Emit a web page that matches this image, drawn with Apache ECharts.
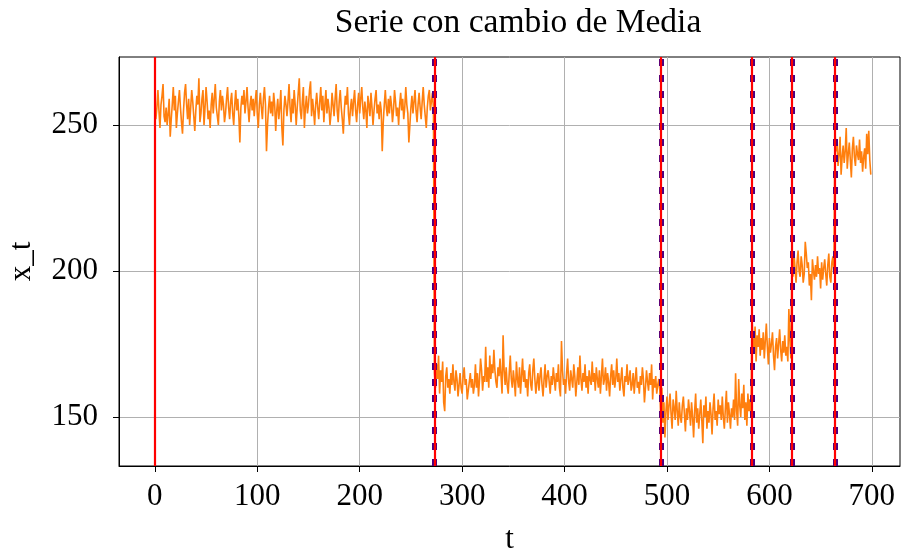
<!DOCTYPE html>
<html>
<head>
<meta charset="utf-8">
<script src="https://cdn.jsdelivr.net/npm/echarts@6/dist/echarts.min.js"></script>
<style>html,body{margin:0;padding:0;background:#fff;}#c{width:901px;height:555px;}</style>
</head>
<body>
<div id="c"></div>
<script>
// Segment 1: t = 0..272
const seg1 = [
258,252,256,262,255,249,257,260,264,253,
251,256,250,254,259,246,252,257,263,255,
260,249,254,258,262,256,251,247,255,261,
264,257,252,259,250,256,262,258,253,248,
255,260,257,266,251,254,259,262,250,256,
263,258,252,255,249,257,261,254,259,264,
256,253,250,258,262,255,260,257,251,254,
259,263,256,252,258,261,254,250,257,262,
255,259,253,244,256,260,257,262,254,258,
263,256,251,257,260,255,259,253,258,262,
254,249,257,261,256,252,259,263,257,241,
250,256,260,254,258,253,261,257,248,255,
259,252,256,262,249,243,255,260,257,253,
258,264,256,251,259,254,262,257,250,256,
261,266,255,252,258,263,249,256,260,254,
257,262,265,253,259,255,250,257,261,256,
252,258,263,255,260,251,257,262,254,259,
256,250,254,261,257,253,259,264,255,251,
258,262,256,252,247,255,260,257,263,254,
250,256,259,253,258,262,255,251,257,261,
254,259,263,256,252,258,255,249,260,257,
253,261,256,250,255,259,262,254,257,252,
258,255,241,251,257,262,256,253,259,254,
260,257,251,255,262,258,253,256,250,257,
261,255,259,252,256,263,257,254,244,250,
256,260,254,258,262,255,251,257,261,256,
252,258,263,257,253,249,256,260,262,255,
258,261,256
];
// Segment 2: t = 273..493
const seg2 = [
165,160,168,163,171,158,166,162,169,155,
152,164,167,160,163,158,165,161,168,162,
159,166,163,157,161,165,160,158,164,167,
161,163,156,159,162,165,160,163,158,161,
168,160,165,157,163,170,166,159,164,162,
174,162,167,160,171,163,168,165,173,166,
162,160,167,164,170,164,158,178,166,161,
167,161,158,165,171,163,160,166,162,157,
169,163,160,167,158,164,170,162,166,160,
163,157,165,168,161,159,166,170,163,158,
162,165,159,164,167,161,157,163,168,160,
164,166,162,158,164,161,167,163,159,165,
162,168,160,157,176,166,161,163,158,165,
170,162,159,166,163,160,168,164,157,162,
167,161,171,163,159,165,162,168,160,164,
158,166,163,161,169,162,165,159,167,163,
160,166,158,164,170,161,163,167,159,165,
162,157,164,168,161,166,160,163,170,162,
165,159,163,167,160,157,164,162,168,161,
163,166,159,161,165,158,163,167,160,162,
158,164,161,167,163,155,160,166,162,159,
165,161,168,156,163,160,164,158,161,163,
159
];
// Segment 3: t = 494..582
const seg3 = [
150,160,148,155,143,152,157,149,154,158,
151,146,156,153,149,159,152,147,155,150,
148,154,157,151,145,153,149,156,152,147,
155,150,143,152,158,148,153,146,151,156,
149,141,154,150,157,146,152,148,155,151,
144,153,158,149,152,147,156,151,154,149,
157,150,146,153,159,148,155,151,146,153,
150,156,149,165,152,147,163,154,150,158,
153,161,149,155,147,158,152,156,150
];
// Segment 4: t = 583..621
const seg4 = [
184,176,172,181,169,178,174,180,171,177,
173,179,170,176,182,174,168,177,172,175,
179,171,166,174,177,170,175,180,173,169,
176,172,178,171,174,169,187,176,170
];
// Segment 5: t = 622..663
const seg5 = [
204,198,206,201,196,203,207,200,198,205,
202,196,199,210,206,201,203,195,199,190,
204,200,197,202,198,205,199,201,194,203,
197,201,204,199,195,202,206,198,196,203,
205,199
];
// Segment 6: t = 664..699
const seg6 = [
248,241,244,236,240,246,233,239,243,237,
241,249,235,240,244,238,232,242,246,239,
236,243,240,238,245,237,241,234,239,242,
235,247,240,248,238,233
];
const redLines = [0, 273, 494, 583, 622, 664];
const dashedLines = [273, 494, 583, 622, 664];
const xTicks = [0, 100, 200, 300, 400, 500, 600, 700];
const yTicks = [150, 200, 250];
const titleText = 'Serie con cambio de Media';

const values = [].concat(seg1, seg2, seg3, seg4, seg5, seg6);
const lineData = values.map((v, i) => [i, v]);

const FONT = '"Liberation Serif", "DejaVu Serif", serif';
const chart = echarts.init(document.getElementById('c'), null, {renderer: 'canvas'});
chart.setOption({
  animation: false,
  backgroundColor: '#ffffff',
  title: {
    text: titleText, left: 513, top: 1, textAlign: 'center',
    textStyle: {fontFamily: FONT, fontSize: 33.5, fontWeight: 'normal', color: '#000'}
  },
  grid: {left: 119, right: 1, top: 57, bottom: 89, show: true, borderColor: '#000', borderWidth: 1,
         backgroundColor: 'transparent', outerBoundsMode: 'none', containLabel: false},
  xAxis: {
    type: 'value', min: -35, max: 727.5,
    name: 't', nameLocation: 'middle', nameGap: 58,
    nameTextStyle: {fontFamily: FONT, fontSize: 31, color: '#000'},
    axisLine: {show: true, onZero: false, lineStyle: {color: '#000', width: 1}},
    axisTick: {show: true, length: 6, inside: false, customValues: xTicks, lineStyle: {color: '#000'}},
    axisLabel: {customValues: xTicks, margin: 15, fontFamily: FONT, fontSize: 31, color: '#000'},
    splitLine: {show: true, lineStyle: {color: '#b0b0b0', width: 1}}
  },
  yAxis: {
    type: 'value', min: 133.2, max: 273.3,
    name: 'x_t', nameLocation: 'middle', nameGap: 82, nameRotate: 90,
    nameTextStyle: {fontFamily: FONT, fontSize: 31, color: '#000'},
    axisLine: {show: true, onZero: false, lineStyle: {color: '#000', width: 1}},
    axisTick: {show: true, length: 6, inside: false, customValues: yTicks, lineStyle: {color: '#000'}},
    axisLabel: {customValues: yTicks, margin: 21, fontFamily: FONT, fontSize: 31, color: '#000'},
    splitLine: {show: true, lineStyle: {color: '#b0b0b0', width: 1}}
  },
  series: [
    {
      type: 'line', data: lineData, showSymbol: false, symbol: 'none', z: 2,
      lineStyle: {color: '#ff7f0e', width: 1.6}, silent: true
    },
    {
      type: 'line', data: [], z: 3, silent: true,
      markLine: {
        silent: true, symbol: ['none', 'none'], label: {show: false}, animation: false,
        lineStyle: {color: '#4b0082', width: 5, type: [7, 9], opacity: 1},
        emphasis: {disabled: true},
        data: dashedLines.map(x => ({xAxis: x}))
      }
    },
    {
      type: 'line', data: [], z: 4, silent: true,
      markLine: {
        silent: true, symbol: ['none', 'none'], label: {show: false}, animation: false,
        lineStyle: {color: '#ff0000', width: 2.2, type: 'solid', opacity: 1},
        emphasis: {disabled: true},
        data: redLines.map(x => ({xAxis: x}))
      }
    }
  ]
});
</script>
</body>
</html>
